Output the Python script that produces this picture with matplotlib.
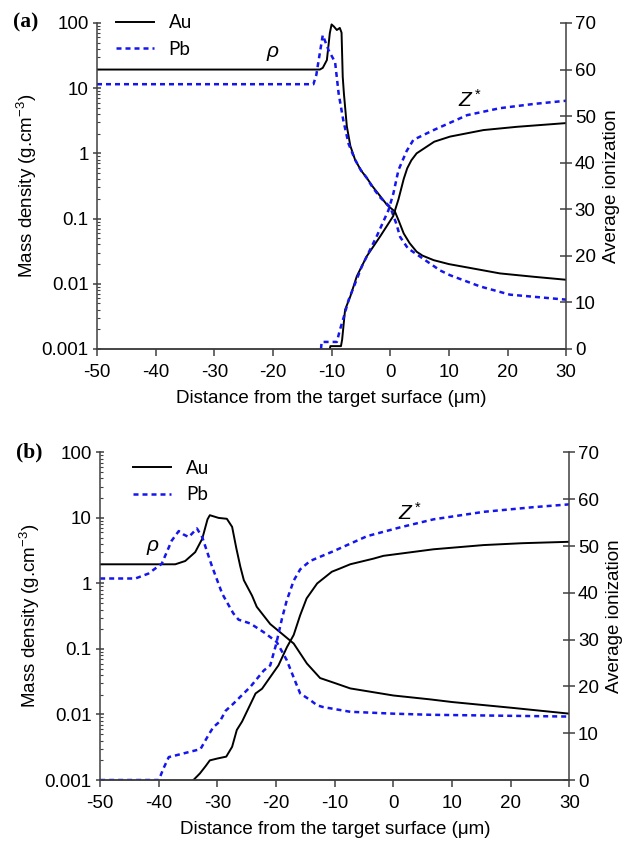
import numpy as np
import matplotlib.pyplot as plt
from matplotlib.ticker import LogLocator, NullFormatter, FuncFormatter

plt.rcParams['font.family'] = ['Liberation Sans', 'DejaVu Sans']
plt.rcParams['mathtext.fontset'] = 'custom'
plt.rcParams['mathtext.rm'] = 'Liberation Sans'
plt.rcParams['mathtext.it'] = 'Liberation Sans:italic'
plt.rcParams['axes.unicode_minus'] = False

# ---- panel (a) ----
au_rho_a_x = [-50, -12.0, -11.5, -10.8, -10.3, -10.0, -9.6, -9.1, -8.6, -8.3, -8.1, -7.9, -7.4, -6.8,
              -6.0, -5.0, -4.0, -3.0, -1.7, -0.5, 0.8, 1.5, 2.3, 3.3, 4.5, 5.5, 7.4, 10.0, 13.4, 18.7, 24.4, 30]
au_rho_a = [19.3, 19.3, 20.5, 27, 70, 95, 88, 78, 84, 71, 15, 8.3, 2.6, 1.3,
            0.8, 0.55, 0.42, 0.31, 0.22, 0.16, 0.128, 0.09, 0.059, 0.042, 0.031, 0.027, 0.023, 0.020, 0.0176, 0.0144, 0.0128, 0.0115]

pb_rho_a_x = [-50, -13.1, -12.6, -12.2, -11.5, -10.5, -9.4, -8.8, -8.0, -7.1, -6.0, -5.0, -4.0, -3.0,
              -1.7, 0.0, 1.0, 1.7, 3.0, 5.1, 8.5, 10.2, 15.3, 20.4, 29.0, 30]
pb_rho_a = [11.5, 11.5, 16, 27, 65, 38, 25, 8.3, 3.2, 1.4, 0.8, 0.55, 0.42, 0.3,
            0.21, 0.15, 0.085, 0.052, 0.035, 0.026, 0.016, 0.0135, 0.0091, 0.0068, 0.0058, 0.0057]

au_z_a_x = [-10.3, -10.2, -8.4, -8.2, -7.7, -6.8, -5.7, -4.0, -1.7, 0.5, 1.4, 2.3, 2.9, 3.6,
            4.5, 5.7, 7.5, 10.2, 15.9, 21.6, 30]
au_z_a = [0, 0.6, 0.6, 2.0, 8.4, 11.3, 15.6, 19.9, 24.2, 28.5, 32.1, 36.5, 38.8, 40.5,
          42.0, 43.0, 44.5, 45.6, 47.0, 47.7, 48.5]

pb_z_a_x = [-11.8, -11.7, -9.1, -8.6, -8.0, -7.1, -4.85, -2.3, -0.3, 0.54, 1.4, 2.8, 3.95,
            7.4, 13.1, 18.7, 24.4, 30]
pb_z_a = [0, 1.5, 1.5, 4.0, 6.5, 10.5, 17.7, 24.2, 29.8, 33.4, 38.4, 42.5, 44.9,
          47.0, 50.2, 51.7, 52.6, 53.3]

# ---- panel (b) ----
au_rho_b_x = [-50, -37.2, -35.5, -33.8, -32.6, -31.7, -31.3, -29.8, -28.4, -27.5, -26.8, -26.1, -25.5,
              -24.1, -23.3, -21.0, -18.7, -17.0, -14.75, -12.5, -9.9, -7.35, 0, 6.3, 10, 20, 30]
au_rho_b = [1.96, 1.96, 2.2, 3.0, 4.8, 9.5, 11, 10, 9.7, 7.3, 3.5, 1.8, 1.12,
            0.65, 0.44, 0.24, 0.162, 0.121, 0.060, 0.036, 0.030, 0.025, 0.0195, 0.017, 0.0155, 0.0127, 0.0103]

pb_rho_b_x = [-50, -44, -41.8, -39.5, -37.8, -36.6, -35.8, -34.9, -33.5, -32.6, -31.0, -29.2, -28.0,
              -27.3, -26.4, -24.4, -22.1, -19.9, -18.2, -16.8, -15.9, -14.1, -13.0, -12.0, -7.35, 0, 6.3, 30]
pb_rho_b = [1.19, 1.19, 1.41, 2.0, 4.5, 6.3, 5.6, 5.1, 6.9, 5.1, 1.9, 0.7, 0.45,
            0.35, 0.28, 0.245, 0.18, 0.128, 0.068, 0.033, 0.021, 0.0164, 0.0138, 0.013, 0.011, 0.0103, 0.0099, 0.0093]

au_z_b_x = [-34.1, -33.0, -32.0, -31.3, -30.0, -28.5, -27.5, -26.7, -25.8, -23.5, -22.4, -21.0,
            -19.6, -18.15, -17.0, -15.9, -14.8, -13.0, -10.5, -9.1, -7.35, -3.4, -1.7, 6.85, 15.4, 22, 30]
au_z_b = [0, 1.4, 3.0, 4.2, 4.6, 5.0, 7.1, 10.7, 12.5, 18.5, 19.5, 22.0,
          24.5, 28.4, 31.0, 35.2, 38.8, 42.0, 44.5, 45.2, 46.1, 47.3, 47.9, 49.3, 50.2, 50.6, 50.9]

pb_z_b_x = [-50, -40.0, -39.2, -38.3, -37.0, -34.8, -32.9, -31.4, -30.7, -29.6, -28.6, -27.3, -24.4,
            -22.1, -21.0, -20.0, -19.0, -18.2, -17.0, -15.9, -14.2, -10.2, -4.5, 1.2, 6.85, 15.4, 23.9, 30]
pb_z_b = [0, 0, 2.5, 4.9, 5.3, 6.0, 6.6, 9.9, 11.3, 12.5, 14.8, 16.3, 19.9,
          23.4, 24.5, 29.0, 34.5, 38.3, 42.6, 45.0, 46.8, 48.9, 52.1, 54.0, 55.7, 57.3, 58.3, 58.9]

x_ticks = [-50, -40, -30, -20, -10, 0, 10, 20, 30]
rho_ticks = [0.001, 0.01, 0.1, 1, 10, 100]
z_ticks = [0, 10, 20, 30, 40, 50, 60, 70]

spine_col = '#404040'
pb_style = (0, (2.0, 1.6))
fs = 13.5


def panel(ax, d, tag, rho_pos, z_pos, leg_anchor):
    ax2 = ax.twinx()
    au_line, = ax.plot(d['au_rho_x'], d['au_rho'], color='black', lw=1.4, label='Au')
    pb_line, = ax.plot(d['pb_rho_x'], d['pb_rho'], color='#1515ee', lw=1.8, ls=pb_style, label='Pb')
    ax2.plot(d['au_z_x'], d['au_z'], color='black', lw=1.4)
    ax2.plot(d['pb_z_x'], d['pb_z'], color='#1515ee', lw=1.8, ls=pb_style)

    ax.set_yscale('log')
    ax.set_xlim(-50, 30)
    ax.set_ylim(0.001, 100)
    ax2.set_ylim(0, 70)
    ax.set_xticks(x_ticks)
    ax.set_yticks(rho_ticks)
    ax.yaxis.set_major_formatter(FuncFormatter(lambda v, p: '{:g}'.format(v)))
    ax.yaxis.set_minor_locator(LogLocator(base=10, subs=np.arange(2, 10)))
    ax.yaxis.set_minor_formatter(NullFormatter())
    ax2.set_yticks(z_ticks)

    for a in (ax, ax2):
        a.spines['top'].set_visible(False)
        for s in ('left', 'right', 'bottom'):
            a.spines[s].set_color(spine_col)
            a.spines[s].set_linewidth(1.1)
    ax2.spines['left'].set_visible(False)
    ax.spines['right'].set_visible(False)

    ax.tick_params(axis='x', direction='out', length=5, width=1.1, color=spine_col,
                   labelsize=fs, pad=6)
    ax.tick_params(axis='y', which='major', direction='inout', length=6, width=1.1,
                   color=spine_col, labelsize=fs, pad=3)
    ax.tick_params(axis='y', which='minor', direction='in', length=2.2, width=0.8, color=spine_col)
    ax2.tick_params(axis='y', direction='inout', length=8.5, width=1.1, color=spine_col,
                    labelsize=fs, pad=2)

    ax.set_xlabel('Distance from the target surface (\u03bcm)', fontsize=fs, labelpad=6)
    ax.set_ylabel('Mass density (g.cm$^{-3}$)', fontsize=fs, labelpad=2)
    ax2.set_ylabel('Average ionization', fontsize=fs, labelpad=5)

    ax.text(rho_pos[0], rho_pos[1], '\u03c1', fontsize=15, style='italic',
            ha='center', va='center', family=['Liberation Sans', 'DejaVu Sans'])
    ax2.text(z_pos[0], z_pos[1], '$Z^*$', fontsize=15, ha='center', va='center')

    ax.text(-0.18, 1.0, tag, transform=ax.transAxes, fontsize=15.5, fontweight='bold',
            family='Liberation Serif', ha='left', va='center')

    leg = ax.legend(handles=[au_line, pb_line], loc='upper left', bbox_to_anchor=leg_anchor,
                    frameon=False, fontsize=fs, handlelength=2.0, handletextpad=0.8,
                    labelspacing=0.5, borderaxespad=0)
    for t in leg.get_texts():
        t.set_family(['Lato', 'DejaVu Sans'])
    return ax2


fig = plt.figure(figsize=(6.34, 8.51), dpi=100)
ax_a = fig.add_axes([0.153, 0.590, 0.740, 0.383])
ax_b = fig.add_axes([0.158, 0.0834, 0.740, 0.385])

data_a = dict(au_rho_x=au_rho_a_x, au_rho=au_rho_a, pb_rho_x=pb_rho_a_x, pb_rho=pb_rho_a,
              au_z_x=au_z_a_x, au_z=au_z_a, pb_z_x=pb_z_a_x, pb_z=pb_z_a)
data_b = dict(au_rho_x=au_rho_b_x, au_rho=au_rho_b, pb_rho_x=pb_rho_b_x, pb_rho=pb_rho_b,
              au_z_x=au_z_b_x, au_z=au_z_b, pb_z_x=pb_z_b_x, pb_z=pb_z_b)

panel(ax_a, data_a, '(a)', (-20.0, 36), (13.6, 53.5), (0.025, 1.05))
panel(ax_b, data_b, '(b)', (-41.0, 3.8), (2.9, 57.0), (0.055, 1.0))

fig.savefig('out.png', dpi=100)
